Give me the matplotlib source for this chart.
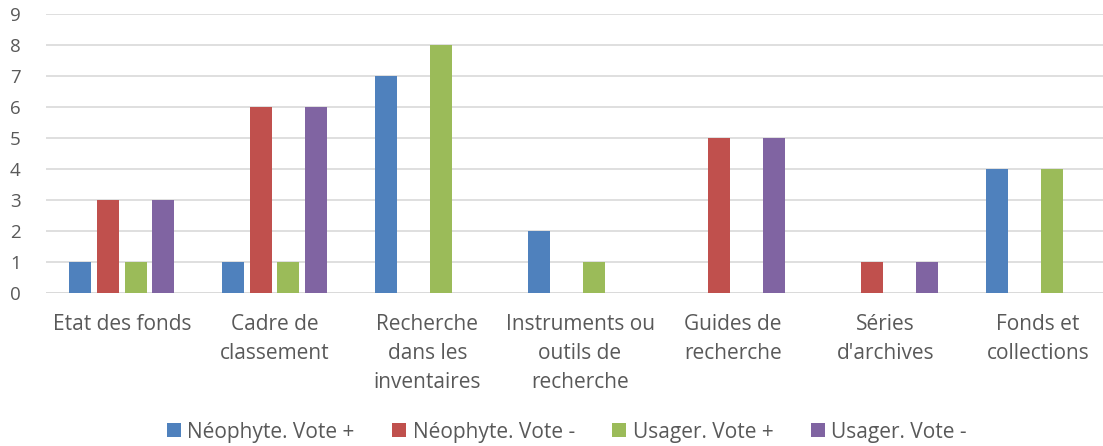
import numpy as np
import matplotlib.pyplot as plt

# Categories (wrapped as in the original chart)
categories = ["Etat des fonds", "Cadre de\nclassement", "Recherche\ndans les\ninventaires",
              "Instruments ou\noutils de\nrecherche", "Guides de\nrecherche",
              "Séries\nd'archives", "Fonds et\ncollections"]

# Series values
neophyte_plus = [1, 1, 7, 2, 0, 0, 4]
neophyte_minus = [3, 6, 0, 0, 5, 1, 0]
usager_plus = [1, 1, 8, 1, 0, 0, 4]
usager_minus = [3, 6, 0, 0, 5, 1, 0]

series_names = ["Néophyte. Vote +", "Néophyte. Vote -", "Usager. Vote +", "Usager. Vote -"]
colors = ["#4F81BD", "#C0504D", "#9BBB59", "#8064A2"]

plt.rcParams['font.family'] = ['Open Sans', 'DejaVu Sans']
text_color = "#595959"

fig = plt.figure(figsize=(11.03, 4.46), dpi=100)
ax = fig.add_axes([0.0413, 0.344, 0.9587, 0.6235])

x = np.arange(len(categories))
step = 0.181
width = 0.144
all_series = [neophyte_plus, neophyte_minus, usager_plus, usager_minus]
for i, (vals, name, col) in enumerate(zip(all_series, series_names, colors)):
    ax.bar(x + (i - 1.5) * step, vals, width, color=col, label=name, zorder=3)

ax.set_xlim(-0.5, 6.425)
ax.set_ylim(0, 9)
ax.set_yticks(range(10))
ax.yaxis.grid(True, color="#D9D9D9", linewidth=1.2, zorder=0)
for s in ax.spines.values():
    s.set_visible(False)
ax.axhline(0, color="#D9D9D9", linewidth=1.2, zorder=1)

ax.set_xticks(x)
ax.set_xticklabels(categories, fontsize=15, color=text_color, linespacing=1.5, va="top")
ax.tick_params(axis="x", length=0, pad=15.5)
ax.tick_params(axis="y", length=0, pad=18, labelsize=13.5, labelcolor=text_color)

fig.legend(loc="center", bbox_to_anchor=(0.514, 0.031), ncol=4, frameon=False,
           fontsize=15, labelcolor=text_color, handlelength=0.67, handleheight=0.67,
           handletextpad=0.3, columnspacing=1.8)

fig.savefig("out.png", dpi=100)
